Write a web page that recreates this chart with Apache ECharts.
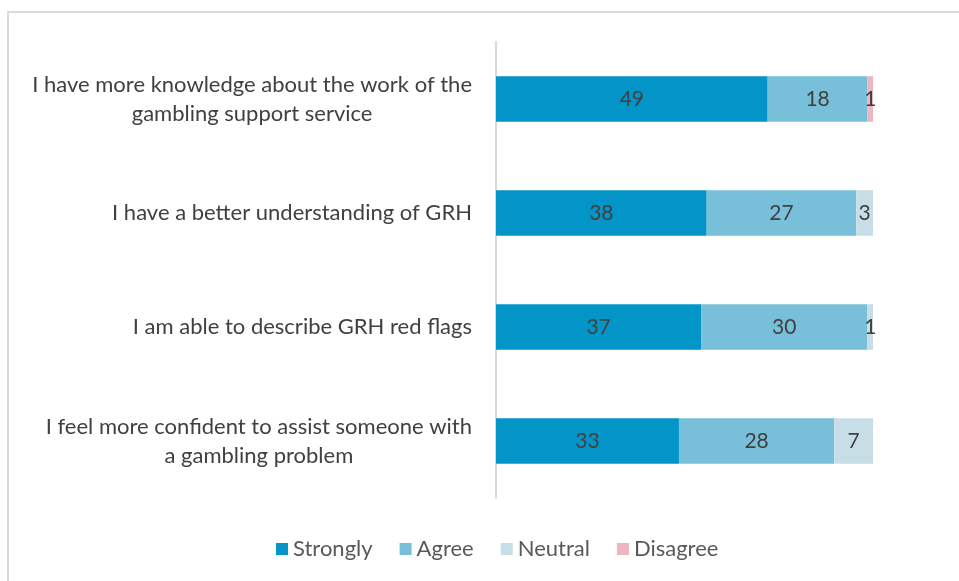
<!DOCTYPE html>
<html>
<head>
<meta charset="utf-8">
<script src="https://cdn.jsdelivr.net/npm/echarts@6/dist/echarts.min.js"></script>
<style>html,body{margin:0;padding:0;background:#fff}#c{width:959px;height:581px}</style>
</head>
<body>
<div id="c"></div>
<script>
var categories = [
  "I have more knowledge about the work of the\ngambling support service",
  "I have a better understanding of GRH",
  "I am able to describe GRH red flags",
  "I feel more confident to assist someone with\na gambling problem"
];
var seriesNames = ["Strongly", "Agree", "Neutral", "Disagree"];
var strongly = [49, 38, 37, 33];
var agree = [18, 27, 30, 28];
var neutral = [0, 3, 1, 7];
var disagree = [1, 0, 0, 0];

var colors = ["#0395C8", "#78BFD9", "#C8DEE6", "#EDB5C0"];
var FONT = "Lato";
var FS = 22;
var chart = echarts.init(document.getElementById('c'), null, {renderer: 'canvas'});

function mk(name, data, color) {
  return {
    name: name, type: 'bar', stack: 'total', barWidth: '40%',
    itemStyle: {color: color},
    label: {
      show: true, position: 'inside', color: '#404040', fontSize: 21, fontFamily: FONT,
      formatter: function (p) { return p.value ? String(p.value) : ''; }
    },
    data: data
  };
}

chart.setOption({
  animation: false,
  graphic: [{
    type: 'rect', shape: {x: 8, y: 12, width: 1000, height: 1000},
    style: {fill: null, stroke: '#D9D9D9', lineWidth: 2}, silent: true, z: -10
  }],
  legend: {
    bottom: 16, left: 271, itemWidth: 12, itemHeight: 12, itemGap: 27,
    icon: 'rect',
    textStyle: {color: '#595959', fontSize: FS, fontFamily: FONT},
    data: seriesNames
  },
  grid: {left: 496, right: 86, top: 42, bottom: 83, containLabel: false},
  xAxis: {
    type: 'value', min: 0, max: 68, show: false
  },
  yAxis: {
    type: 'category', inverse: true, data: categories,
    axisLine: {show: true, lineStyle: {color: '#D9D9D9', width: 2}},
    axisTick: {show: false},
    axisLabel: {
      margin: 24, color: '#404040', fontSize: FS, fontFamily: FONT,
      formatter: function (v) {
        var parts = v.split('\n');
        if (parts.length === 1) return v;
        return parts.map(function (s) { return '{c|' + s + '}'; }).join('\n');
      },
      rich: {c: {align: 'center', color: '#404040', fontSize: FS, fontFamily: FONT, lineHeight: 29}}
    }
  },
  series: [
    mk(seriesNames[0], strongly, colors[0]),
    mk(seriesNames[1], agree, colors[1]),
    mk(seriesNames[2], neutral, colors[2]),
    mk(seriesNames[3], disagree, colors[3])
  ]
});
</script>
</body>
</html>
